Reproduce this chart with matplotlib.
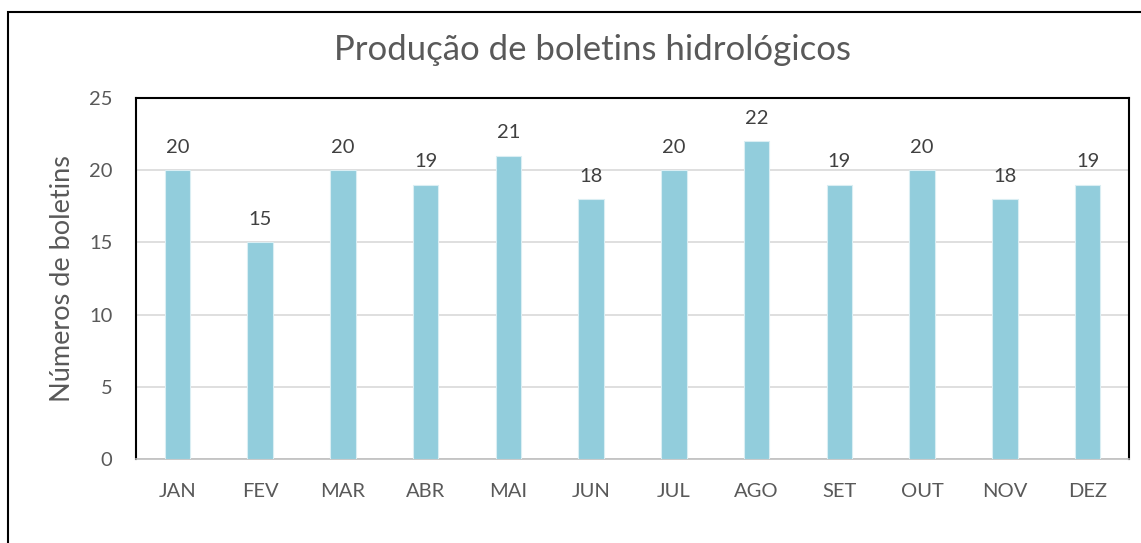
import matplotlib
matplotlib.use('agg')
import matplotlib.pyplot as plt
from matplotlib.patches import Rectangle

# data
meses = ["JAN", "FEV", "MAR", "ABR", "MAI", "JUN",
         "JUL", "AGO", "SET", "OUT", "NOV", "DEZ"]
boletins = [20, 15, 20, 19, 21, 18, 20, 22, 19, 20, 18, 19]
y_ticks = [0, 5, 10, 15, 20, 25]

plt.rcParams['font.family'] = ['Lato', 'DejaVu Sans']

W, H = 1141, 543
fig = plt.figure(figsize=(W / 100, H / 100), dpi=100)

# outer chart border (only top and left visible in the reference)
fig.add_artist(Rectangle((8 / W, -0.5), 2, (1 - 12 / H) + 0.5,
                         transform=fig.transFigure,
                         fill=False, edgecolor='black', linewidth=1.5))

left, right, top, bottom = 136, 1129, 98, 459
ax = fig.add_axes([left / W, 1 - bottom / H, (right - left) / W, (bottom - top) / H])

x = range(len(meses))
bars = ax.bar(x, boletins, width=0.31, color='#92CDDC',
              edgecolor='#DAEEF3', linewidth=0.8, zorder=3)
for xi, v in zip(x, boletins):
    ax.text(xi, v + 1.0, str(v), ha='center', va='bottom',
            fontsize=14.5, color='#404040')

ax.set_xlim(-0.5, len(meses) - 0.5)
ax.set_ylim(0, 25)
ax.set_yticks(y_ticks)
ax.set_xticks(list(x))
ax.set_xticklabels(meses)
ax.yaxis.grid(True, color='#D9D9D9', linewidth=1.2, zorder=0)
ax.tick_params(axis='both', length=0, labelsize=14.5, colors='#595959')
ax.tick_params(axis='x', pad=17)
ax.tick_params(axis='y', pad=17)

for s in ['top', 'left', 'right']:
    ax.spines[s].set_color('black')
    ax.spines[s].set_linewidth(1.5)
ax.spines['bottom'].set_color('#BFBFBF')
ax.spines['bottom'].set_linewidth(1.2)

ax.set_ylabel("Números de boletins", fontsize=19.5, color='#595959', labelpad=10)
fig.text(592 / W, 1 - 50 / H, "Produção de boletins hidrológicos",
         ha='center', va='center', fontsize=25, color='#595959')

fig.savefig("out.png", dpi=100)
